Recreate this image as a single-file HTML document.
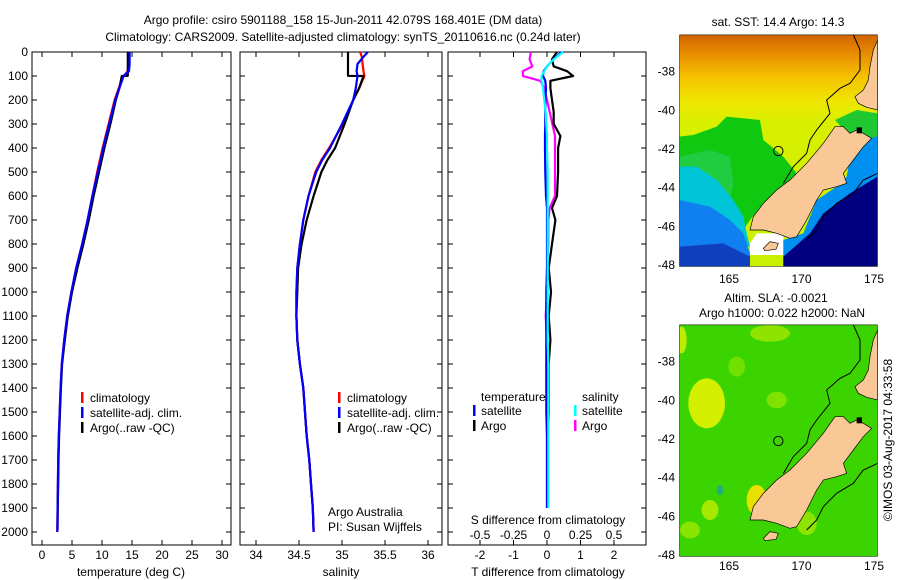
<!DOCTYPE html>
<html><head><meta charset="utf-8"><style>
html,body{margin:0;padding:0;background:#fff;}
svg{display:block;font-family:"Liberation Sans",sans-serif;}
text{font-size:12px;fill:#000;}
</style></head><body>
<svg id="fig" width="900" height="580" viewBox="0 0 900 580">
<defs>
<clipPath id="mapclip"><rect x="88" y="104" width="595" height="696"/></clipPath>
<linearGradient id="sstgrad" x1="0" y1="104" x2="0" y2="800" gradientUnits="userSpaceOnUse">
<stop offset="0" stop-color="#d06400"/><stop offset="0.08" stop-color="#e88c00"/><stop offset="0.18" stop-color="#f5c000"/><stop offset="0.28" stop-color="#f0e400"/><stop offset="0.38" stop-color="#d8f000"/><stop offset="1" stop-color="#c8f000"/>
</linearGradient>
</defs>
<g>
<text x="343" y="24" text-anchor="middle">Argo profile: csiro 5901188_158 15-Jun-2011 42.079S 168.401E (DM data)</text>
<text x="343" y="41" text-anchor="middle">Climatology: CARS2009. Satellite-adjusted climatology: synTS_20110616.nc (0.24d later)</text>
</g>
<g id="panels"></g>
<g id="maps"></g>
<text x="0" y="0" transform="translate(892,440) rotate(-90)" text-anchor="middle">©IMOS 03-Aug-2017 04:33:58</text>
</svg>
<script>
// ---- Temperature panel data ----
const depthT = [0,20,50,80,100,150,200,300,400,450,500,600,700,800,900,1000,1100,1200,1300,1400,1500,1600,1700,1800,1900,2000];
const tempClim = [14.4,14.4,14.4,14.3,13.6,12.8,12.1,11.1,10.1,9.65,9.2,8.4,7.6,6.7,5.7,4.9,4.2,3.7,3.3,3.1,2.95,2.8,2.7,2.65,2.6,2.55];
const tempSat = [14.6,14.6,14.6,14.5,13.6,12.9,12.2,11.2,10.2,9.75,9.3,8.4,7.6,6.7,5.7,4.9,4.2,3.7,3.3,3.1,2.95,2.8,2.7,2.65,2.6,2.55];
const depthArgo = [0,50,99,100,150,200,300,400,450,500,600,700,800,900,1000,1100,1200,1300,1400,1500,1600,1700,1800,1900,1990];
const tempArgo = [14.3,14.3,14.3,13.3,12.9,12.3,11.4,10.4,9.95,9.5,8.6,7.8,6.9,5.9,5.0,4.3,3.8,3.35,3.15,3.0,2.85,2.75,2.7,2.62,2.6];
// ---- Salinity panel data ----
const salClim = [35.21,35.23,35.24,35.25,35.26,35.2,35.13,35.01,34.85,34.76,34.69,34.61,34.55,34.51,34.48,34.47,34.47,34.48,34.51,34.55,34.57,34.59,34.62,34.64,34.66,34.67];
const salSat = [35.3,35.25,35.18,35.17,35.18,35.16,35.13,35.0,34.86,34.77,34.7,34.61,34.55,34.51,34.48,34.47,34.47,34.48,34.51,34.55,34.57,34.59,34.62,34.64,34.66,34.67];
const salArgo = [35.07,35.07,35.07,35.25,35.2,35.13,35.03,34.92,34.83,34.76,34.67,34.59,34.53,34.49,34.48,34.47,34.48,34.51,34.55,34.57,34.59,34.62,34.64,34.66,34.67];
// ---- Difference panel data ----
const depthD = [0,30,60,80,100,120,150,200,250,300,350,400,500,600,650,700,800,900,1000,1100,1200,1300,1400,1500,1600,1700,1800,1900];
const dTArgo = [0.3,0.15,0.2,0.6,0.78,0.1,0.1,0.15,0.2,0.2,0.4,0.33,0.33,0.3,0.15,0.25,0.15,0.05,0.12,0.05,0.1,0.05,0.05,0.05,0.03,0.03,0.03,0.03];
const dTSat = [0.44,0.2,0.0,-0.1,-0.12,-0.05,-0.03,-0.05,-0.05,-0.05,-0.06,-0.06,-0.05,-0.03,0,0,0,0,-0.02,-0.02,-0.02,-0.02,-0.02,-0.02,0,0,0,0];
const dSArgo = [-0.12,-0.13,-0.11,-0.18,-0.18,-0.05,-0.02,0.0,0.02,0.04,0.06,0.06,0.06,0.06,0.02,0.01,0.01,0.0,0.0,-0.01,0,0,0,0,0,0,0,0];
const dSSat = [0.12,0.05,0.0,-0.02,-0.04,-0.04,-0.03,-0.02,-0.01,-0.005,0,0,0.005,0.005,0.005,0.005,0.005,0.005,0.005,0.005,0.005,0.01,0.01,0.01,0.01,0.01,0.01,0.01];
// ---- Axis tick labels ----
const depthTicks = [0,100,200,300,400,500,600,700,800,900,1000,1100,1200,1300,1400,1500,1600,1700,1800,1900,2000];
const tTicks = [0,5,10,15,20,25,30];
const sTicks = [34,34.5,35,35.5,36];
const dTTicks = [-2,-1,0,1,2];
const dSTicks = [-0.5,-0.25,0,0.25,0.5];
const dSTickLabels = ["-0.5","-0.25","0","0.25","0.5"];

const NS='http://www.w3.org/2000/svg';
const panels=document.getElementById('panels');
function mk(tag,attrs,parent){const e=document.createElementNS(NS,tag);for(const k in attrs)e.setAttribute(k,attrs[k]);(parent||panels).appendChild(e);return e;}
const yD=d=>52+0.24*d;
const xT=t=>42+6*t;
const xS=s=>256+86*(s-34);
const xDT=v=>547+33.5*v;
const xDS=v=>547+134*v;
const TOP=52,BOT=545;

function panelBox(x0,x1,name){
  const r=mk('rect',{x:x0,y:TOP,width:x1-x0,height:BOT-TOP,fill:'none',stroke:'#000','stroke-width':1});
  
  
  depthTicks.forEach(d=>{
    const t1=mk('line',{x1:x0,x2:x0+5,y1:yD(d),y2:yD(d),stroke:'#000'});
    
    
    const t2=mk('line',{x1:x1-5,x2:x1,y1:yD(d),y2:yD(d),stroke:'#000'});
    
    
  });
}
function xTicks(vals,fx,labels,ly){
  vals.forEach((v,i)=>{
    const x=fx(v);
    const a=mk('line',{x1:x,x2:x,y1:TOP,y2:TOP+5,stroke:'#000'});
    
    
    const b=mk('line',{x1:x,x2:x,y1:BOT-5,y2:BOT,stroke:'#000'});
    
    
    if(ly){const t=mk('text',{x:x,y:ly,'text-anchor':'middle'});t.textContent=labels?labels[i]:String(v);
    
    }
  });
}
function line(ds,vs,fx,color,name){
  const pts=ds.map((d,i)=>fx(vs[i]).toFixed(1)+','+yD(d).toFixed(1)).join(' ');
  const p=mk('polyline',{points:pts,fill:'none',stroke:color,'stroke-width':2.2,'stroke-linejoin':'round'});
  
  
}
function txt(x,y,s,name,anchor){const t=mk('text',{x:x,y:y,'text-anchor':anchor||'start'});t.textContent=s;
  
  return t;}
function legBar(x,y,color){const r=mk('rect',{x:x,y:y-10,width:2.5,height:11,fill:color});
  
  }

depthTicks.forEach(d=>txt(28,yD(d)+4,String(d),'depth-tick-label','end'));

// Panel 1
panelBox(32,231,'temperature-panel');
xTicks(tTicks,xT,null,559);
line(depthT,tempClim,xT,'#f00','temperature-climatology-line');
line(depthArgo,tempArgo,xT,'#000','temperature-argo-line');
line(depthT,tempSat,xT,'#00f','temperature-satellite-line');
txt(131,576,'temperature (deg C)','temperature-axis-title','middle');
legBar(81,402,'#f00');txt(90,402,'climatology','legend-climatology');
legBar(81,417,'#00f');txt(90,417,'satellite-adj. clim.','legend-satellite');
legBar(81,432,'#000');txt(90,432,'Argo(..raw -QC)','legend-argo');

// Panel 2
panelBox(240,442,'salinity-panel');
xTicks(sTicks,xS,null,559);
line(depthT,salClim,xS,'#f00','salinity-climatology-line');
line(depthArgo,salArgo,xS,'#000','salinity-argo-line');
line(depthT,salSat,xS,'#00f','salinity-satellite-line');
txt(341,576,'salinity','salinity-axis-title','middle');
legBar(338,402,'#f00');txt(347,402,'climatology','legend-climatology');
legBar(338,417,'#00f');txt(347,417,'satellite-adj. clim.','legend-satellite');
legBar(338,432,'#000');txt(347,432,'Argo(..raw -QC)','legend-argo');
txt(328,516,'Argo Australia','credit-argo-australia');
txt(328,531,'PI: Susan Wijffels','credit-pi');

// Panel 3
panelBox(448,646,'difference-panel');
xTicks(dTTicks,xDT,null,559);
dSTicks.forEach((v,i)=>txt(xDS(v),539,dSTickLabels[i],'s-diff-tick-label','middle'));
line(depthD,dSArgo,xDS,'#f0f','s-diff-argo-line');
line(depthD,dTArgo,xDT,'#000','t-diff-argo-line');
line(depthD,dTSat,xDT,'#00f','t-diff-satellite-line');
line(depthD,dSSat,xDS,'#0ff','s-diff-satellite-line');
txt(548,524,'S difference from climatology','s-diff-axis-title','middle');
txt(548,576,'T difference from climatology','t-diff-axis-title','middle');
txt(481,401,'temperature','legend-temperature-header');
legBar(473,415,'#00f');txt(481,415,'satellite','legend-t-satellite');
legBar(473,430,'#000');txt(481,430,'Argo','legend-t-argo');
txt(582,401,'salinity','legend-salinity-header');
legBar(574,415,'#0ff');txt(582,415,'satellite','legend-s-satellite');
legBar(574,430,'#f0f');txt(582,430,'Argo','legend-s-argo');

// ---- Maps ----
const maps=document.getElementById('maps');
const latTicks=[-38,-40,-42,-44,-46,-48];
const lonTicks=[165,170,175];
const southIsland="555,380 520,430 470,490 420,540 380,570 340,610 310,650 300,690 340,690 380,700 420,715 440,710 470,660 500,600 520,570 560,560 590,550 580,520 610,480 640,440 665,415 640,400 620,390 600,400 580,380";
const stewart="340,745 360,725 385,730 378,748 345,752";
const northIsland="683,120 670,150 660,200 655,240 640,270 615,290 625,310 650,322 683,330";
function mapG(dy,name){const g=document.createElementNS(NS,'g');g.setAttribute('transform','translate(650,'+dy+') scale(0.33333)');
  
  maps.appendChild(g);return g;}
function poly(g,pts,fill,extra){const p=mk('polygon',Object.assign({points:pts,fill:fill},extra||{}),g);return p;}
function common(g){
  const cl=mk('polyline',{points:"610,104 630,150 630,210 600,250 570,265 530,300 540,340 500,390 480,420 470,460 430,500 400,550",fill:'none',stroke:'#000','stroke-width':3},g);
  
  
  const cl2=mk('polyline',{points:"683,520 640,540 610,580 560,610 520,650 500,690 470,720",fill:'none',stroke:'#000','stroke-width':3},g);
  
  
  const si=poly(g,southIsland,'#f9c896',{stroke:'#000','stroke-width':2});
  
  
  const st=poly(g,stewart,'#f9c896',{stroke:'#000','stroke-width':2});
  
  
  const ni=poly(g,northIsland,'#f9c896',{stroke:'#000','stroke-width':2});
  
  
  const bl=mk('rect',{x:620,y:382,width:16,height:18,fill:'#000'},g);
  
  
  const c=mk('circle',{cx:385,cy:453,r:14,fill:'none',stroke:'#000','stroke-width':3},g);
  
  
  const box=mk('rect',{x:88,y:104,width:595,height:696,fill:'none',stroke:'#000','stroke-width':3},g);
  
  
}
function axes(dy,lonY){
  latTicks.forEach(l=>{const y=dy+(215+(l+38)*-58)/3;
    const t=mk('text',{x:675,y:y+4,'text-anchor':'end'},maps);t.textContent=String(l);
    
    });
  lonTicks.forEach(l=>{const x=729+(l-165)*14.5;
    const t=mk('text',{x:x,y:lonY,'text-anchor':'middle'},maps);t.textContent=String(l);
    
    });
}
// SST map
const g1=mapG(0,'sst-map');
const inner1=document.createElementNS(NS,'g');inner1.setAttribute('clip-path','url(#mapclip)');g1.appendChild(inner1);
poly(inner1,"88,104 683,104 683,800 88,800",'url(#sstgrad)');
poly(inner1,"88,410 130,405 200,380 230,350 330,360 340,420 400,470 440,520 420,545 380,570 340,610 300,660 280,690 230,690 150,640 88,620",'#10c810');
poly(inner1,"88,470 180,450 240,470 250,550 240,600 280,650 290,700 88,700",'#20cc40');
poly(inner1,"88,500 140,500 200,540 250,600 280,650 290,700 300,740 88,740",'#00c4d8');
poly(inner1,"88,600 180,620 240,660 280,700 300,760 300,800 88,800",'#1080f0');
poly(inner1,"88,740 220,730 300,770 300,800 88,800",'#1040c0');
poly(inner1,"300,730 320,700 400,700 400,765 300,765",'#ffffff');
poly(inner1,"555,360 620,330 683,340 683,420 640,430 600,410",'#20c830');
poly(inner1,"610,420 683,410 683,800 400,800 400,720 460,700 500,600 560,560 590,530",'#0090f0');
poly(inner1,"480,700 520,640 600,580 683,530 683,800 400,800 400,770",'#000080');
common(inner1);
axes(0,283);
const t1=mk('text',{x:778,y:26,'text-anchor':'middle'},maps);t1.textContent='sat. SST: 14.4  Argo: 14.3';


// SLA map
const g2=mapG(290,'sla-map');
const inner2=document.createElementNS(NS,'g');inner2.setAttribute('clip-path','url(#mapclip)');g2.appendChild(inner2);
poly(inner2,"88,104 683,104 683,800 88,800",'#3cd400');
[[170,340,55,75,'#d4f000'],[95,150,15,40,'#c0ec00'],[360,130,60,25,'#8ee400'],[320,630,30,45,'#e8e000'],[180,660,25,30,'#a8e800'],[210,600,10,15,'#20b080'],[260,230,25,30,'#70e000'],[380,330,30,25,'#80e200'],[120,720,30,25,'#88e400'],[470,700,30,35,'#8ee400']].forEach(b=>{
  const e=mk('ellipse',{cx:b[0],cy:b[1],rx:b[2],ry:b[3],fill:b[4]},inner2);
  
  
});
common(inner2);
axes(290,570);
const t2=mk('text',{x:776,y:302,'text-anchor':'middle'},maps);t2.textContent='Altim. SLA: -0.0021';


const t3=mk('text',{x:782,y:317,'text-anchor':'middle'},maps);t3.textContent='Argo h1000: 0.022 h2000: NaN';


</script>
</body></html>
